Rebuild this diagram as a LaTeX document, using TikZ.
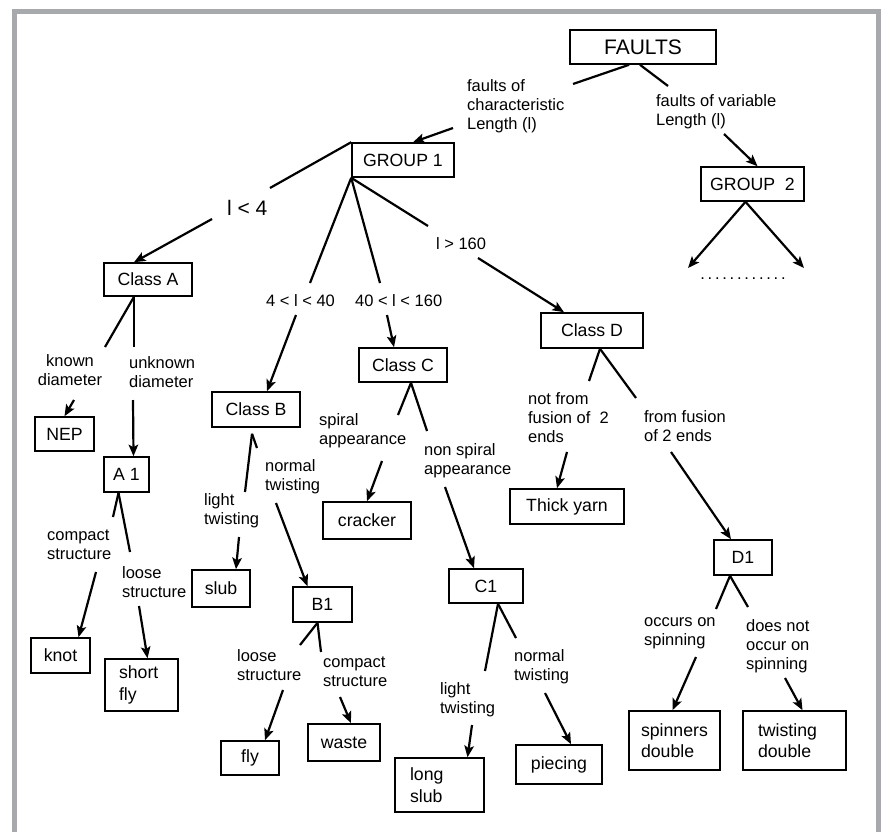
\documentclass[tikz,border=0pt]{standalone}
\usepackage{fontspec}
\setmainfont{Liberation Sans}
\usetikzlibrary{arrows.meta}
\definecolor{framegray}{RGB}{168,169,172}
\tikzset{
    box/.style={draw,line width=1.6pt,inner sep=0pt,font=\fontsize{17.7}{21.5}\selectfont},
    sz/.style 2 args={minimum width=#1,minimum height=#2},
    twoline/.style={align=left,text width=#1},
    lab/.style={inner sep=0pt,align=left,anchor=west,font=\fontsize{16.5}{19}\selectfont},
    biglab/.style={lab,font=\fontsize{21}{24}\selectfont},
    arr/.style={-{Stealth[length=11.5pt,width=9.5pt,inset=2.5pt]}},
}
\begin{document}
\begin{tikzpicture}[x=1pt,y=-1pt,line width=2.2pt]
    \useasboundingbox (0,0) rectangle (882,832);
    %% frame
    \draw[line width=5pt,framegray] (14.5,832) -- (14.5,11.5) -- (878.5,11.5) -- (878.5,832);
    %% boxes
    \node[box,sz={146}{34},font=\fontsize{21}{24}\selectfont] (FAULTS) at (643,47) {FAULTS};
    \node[box,sz={102}{34}] (GROUP1) at (403,160) {GROUP 1};
    \node[box,sz={103}{34}] (GROUP2) at (752.5,184) {GROUP \ 2};
    \node[box,sz={88}{33}] (ClassA) at (148,279.5) {Class A};
    \node[box,sz={88}{35}] (ClassB) at (256,409.5) {Class B};
    \node[box,sz={88}{34}] (ClassC) at (403,365) {Class C};
    \node[box,sz={102}{35}] (ClassD) at (592,330.5) {Class D};
    \node[box,sz={59}{34}] (NEP) at (64.5,434) {NEP};
    \node[box,sz={45}{35}] (A1) at (126.5,474.5) {A 1};
    \node[box,sz={88}{37}] (cracker) at (367,520.5) {cracker};
    \node[box,sz={114}{35}] (thick) at (567,506.5) {Thick yarn};
    \node[box,sz={58}{37}] (slub) at (221,588.5) {slub};
    \node[box,sz={59}{35}] (B1) at (322.5,604.5) {B1};
    \node[box,sz={74}{34}] (C1) at (486,586) {C1};
    \node[box,sz={58}{35}] (D1) at (743,557.5) {D1};
    \node[box,sz={59}{35}] (knot) at (60.5,655.5) {knot};
    \node[box,sz={73}{52},twoline=45pt] (shortfly) at (141.5,685) {short\\fly};
    \node[box,sz={58}{34}] (fly) at (250,758) {fly};
    \node[box,sz={72}{37}] (waste) at (344,742.5) {waste};
    \node[box,sz={89}{54},twoline=59pt] (longslub) at (439.5,785) {long\\slub};
    \node[box,sz={86}{39}] (piecing) at (559,764.5) {piecing};
    \node[box,sz={91}{59},twoline=67pt] (spinners) at (674.5,740.5) {spinners\\double};
    \node[box,sz={103}{59},twoline=73pt] (twisting) at (794.5,740.5) {twisting\\double};
    %% labels
    \node[lab] (lbFC) at (466,106) {faults of\\characteristic\\Length (l)};
    \node[lab] (lbFV) at (655,112) {faults of variable\\Length (l)};
    \node[biglab] (lb4) at (226,207.5) {l < 4};
    \node[lab] (lbB) at (265,301) {4 < l < 40};
    \node[lab] (lbC) at (354,301) {40 < l < 160};
    \node[lab] (lbD) at (435,244) {l > 160};
    \node[lab,anchor=center,align=center] (lbKD) at (70,370) {known\\diameter};
    \node[lab] (lbUD) at (128,372) {unknown\\diameter};
    \node[lab] (lbCS1) at (46,545) {compact\\structure};
    \node[lab] (lbLS1) at (121,582) {loose\\structure};
    \node[lab] (lbLT1) at (203,511) {light\\twisting};
    \node[lab] (lbNT1) at (264,477) {normal\\twisting};
    \node[lab] (lbSA) at (318,431) {spiral\\appearance};
    \node[lab] (lbNSA) at (423,461) {non spiral\\appearance};
    \node[lab] (lbNF) at (527,418) {not from\\fusion of \ 2\\ends};
    \node[lab] (lbFF) at (643,426) {from fusion\\of 2 ends};
    \node[lab] (lbLS2) at (236,665) {loose\\structure};
    \node[lab] (lbCS2) at (322,672) {compact\\structure};
    \node[lab] (lbLT2) at (439,700) {light\\twisting};
    \node[lab] (lbNT2) at (513,667) {normal\\twisting};
    \node[lab] (lbOS) at (643,633) {occurs on\\spinning};
    \node[lab] (lbDN) at (745,646) {does not\\occur on\\spinning};
    \node[lab,anchor=base] (dots) at (743,279) {.\,.\,.\,.\,.\,.\,.\,.\,.\,.\,.\,.};
    %% break points of the branches
    \coordinate (f1a) at (573,84);  \coordinate (f1b) at (453,128);
    \coordinate (f2a) at (668,86);  \coordinate (f2b) at (724,134);
    \coordinate (g2a) at (688,268); \coordinate (g2b) at (804,268);
    \coordinate (ca1) at (270,188); \coordinate (ca2) at (212,219);
    \coordinate (cb1) at (310,283); \coordinate (cb2) at (296,315);
    \coordinate (cc1) at (380,283); \coordinate (cc2) at (387,315);
    \coordinate (cd1) at (428,226); \coordinate (cd2) at (478,258);
    \coordinate (ne1) at (105,347); \coordinate (ne2) at (74,400);
    \coordinate (a11) at (134,347); \coordinate (a12) at (133,400);
    \coordinate (kn1) at (113,517); \coordinate (kn2) at (96,572);
    \coordinate (sf1) at (130,552); \coordinate (sf2) at (139,606);
    \coordinate (sl1) at (245,492); \coordinate (sl2) at (239,537);
    \coordinate (b11) at (257,448); \coordinate (b12) at (276,503);
    \coordinate (cr1) at (398,415); \coordinate (cr2) at (382,461);
    \coordinate (c11) at (427,431); \coordinate (c12) at (445,487);
    \coordinate (ty1) at (589,381); \coordinate (ty2) at (567,452);
    \coordinate (d11) at (636,398); \coordinate (d12) at (671,452);
    \coordinate (fl1) at (300,645); \coordinate (fl2) at (283,690);
    \coordinate (wa1) at (321,652); \coordinate (wa2) at (340,697);
    \coordinate (ls1) at (485,671); \coordinate (ls2) at (472,725);
    \coordinate (pi1) at (516,638); \coordinate (pi2) at (545,693);
    \coordinate (sd1) at (716,609); \coordinate (sd2) at (696,657);
    \coordinate (td1) at (748,607); \coordinate (td2) at (785,678);
    %% faults
    \draw ([xshift=-14]FAULTS.south) -- (f1a); \draw[arr] (f1b) -- ([xshift=10]GROUP1.north);
    \draw ([xshift=-3]FAULTS.south) -- (f2a); \draw[arr] (f2b) -- ([xshift=5]GROUP2.north);
    \draw[arr] ([xshift=-7]GROUP2.south) -- (g2a);
    \draw[arr] ([xshift=-7]GROUP2.south) -- (g2b);
    %% group 1
    \draw (GROUP1.north west) -- (ca1); \draw[arr] (ca2) -- ([xshift=-14]ClassA.north);
    \draw (GROUP1.south west) -- (cb1); \draw[arr] (cb2) -- ([xshift=11]ClassB.north);
    \draw (GROUP1.south west) -- (cc1); \draw[arr] (cc2) -- ([xshift=-9]ClassC.north);
    \draw (GROUP1.south west) -- (cd1); \draw[arr] (cd2) -- ([xshift=-28]ClassD.north);
    %% class A
    \draw ([xshift=-14]ClassA.south) -- (ne1); \draw[arr] (ne2) -- (NEP.north);
    \draw ([xshift=-14]ClassA.south) -- (a11); \draw[arr] (a12) -- ([xshift=7]A1.north);
    \draw ([xshift=-8]A1.south) -- (kn1); \draw[arr] (kn2) -- ([xshift=18]knot.north);
    \draw ([xshift=-8]A1.south) -- (sf1); \draw[arr] (sf2) -- ([xshift=6]shortfly.north);
    %% class B
    \draw ([xshift=-4,yshift=-6]ClassB.south) -- (sl1); \draw[arr] (sl2) -- ([xshift=15]slub.north);
    \draw ([xshift=-4,yshift=-6]ClassB.south) -- (b11); \draw[arr] (b12) -- ([xshift=-15]B1.north);
    \draw ([xshift=-5]B1.south) -- (fl1); \draw[arr] (fl2) -- ([xshift=15]fly.north);
    \draw ([xshift=-5]B1.south) -- (wa1); \draw[arr] (wa2) -- ([xshift=7]waste.north);
    %% class C
    \draw ([xshift=8]ClassC.south) -- (cr1); \draw[arr] (cr2) -- (cracker.north);
    \draw ([xshift=8]ClassC.south) -- (c11); \draw[arr] (c12) -- ([xshift=-12]C1.north);
    \draw ([xshift=12]C1.south) -- (ls1); \draw[arr] (ls2) -- ([xshift=28]longslub.north);
    \draw ([xshift=12]C1.south) -- (pi1); \draw[arr] (pi2) -- ([xshift=12]piecing.north);
    %% class D
    \draw ([xshift=8]ClassD.south) -- (ty1); \draw[arr] (ty2) -- ([xshift=-10]thick.north);
    \draw ([xshift=8]ClassD.south) -- (d11); \draw[arr] (d12) -- ([xshift=-12]D1.north);
    \draw ([xshift=-13]D1.south) -- (sd1); \draw[arr] (sd2) -- ([xshift=-2]spinners.north);
    \draw ([xshift=-13]D1.south) -- (td1); \draw[arr] (td2) -- ([xshift=8]twisting.north);
\end{tikzpicture}
\end{document}
